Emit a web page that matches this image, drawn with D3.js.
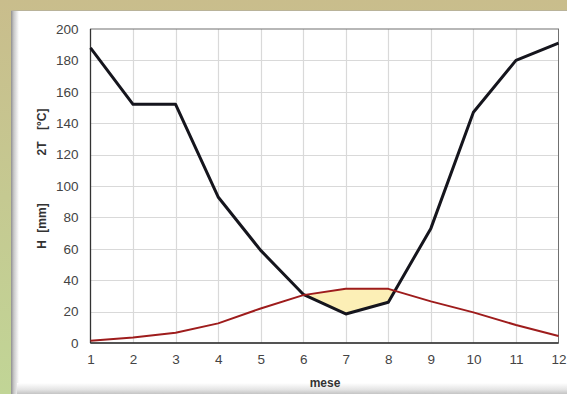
<!DOCTYPE html>
<html>
<head>
<meta charset="utf-8">
<script src="https://cdn.jsdelivr.net/npm/d3@7"></script>
<style>
  html, body { margin: 0; padding: 0; background: #fff; }
  svg { display: block; }
  text { font-family: "Liberation Sans", Arial, sans-serif; }
</style>
</head>
<body>
<svg id="chart" width="567" height="394"></svg>
<script>
// Monthly climate data (Walter–Lieth style): precipitation H and doubled temperature 2T
const months = [1, 2, 3, 4, 5, 6, 7, 8, 9, 10, 11, 12];
const precipitation = [188, 152, 152, 93, 59, 31, 18.5, 26, 73, 147, 180, 191];   // H [mm]
const doubleTemp = [1.5, 3.5, 6.5, 12.5, 22, 30.5, 34.5, 34.5, 26.5, 19.5, 11.5, 4.5]; // 2T [°C]
const yTicks = [0, 20, 40, 60, 80, 100, 120, 140, 160, 180, 200];

const svg = d3.select("#chart");
const W = 567, H = 394;

// ---- background: gradient frame with a bevelled white panel ----
const defs = svg.append("defs");
const bg = defs.append("linearGradient").attr("id", "bgGrad")
  .attr("x1", 0).attr("y1", 0).attr("x2", 0).attr("y2", 1);
bg.append("stop").attr("offset", "0%").attr("stop-color", "#c9bd8c");
bg.append("stop").attr("offset", "100%").attr("stop-color", "#c1d596");

const leftShade = defs.append("linearGradient").attr("id", "leftShade")
  .attr("x1", 0).attr("y1", 0).attr("x2", 1).attr("y2", 0);
leftShade.append("stop").attr("offset", "0%").attr("stop-color", "#8f8f8f");
leftShade.append("stop").attr("offset", "35%").attr("stop-color", "#c8c8c8");
leftShade.append("stop").attr("offset", "100%").attr("stop-color", "#ffffff");

const bottomShade = defs.append("linearGradient").attr("id", "bottomShade")
  .attr("x1", 0).attr("y1", 0).attr("x2", 0).attr("y2", 1);
bottomShade.append("stop").attr("offset", "0%").attr("stop-color", "#ffffff");
bottomShade.append("stop").attr("offset", "60%").attr("stop-color", "#e4e4e4");
bottomShade.append("stop").attr("offset", "100%").attr("stop-color", "#c4c4c4");

svg.append("rect").attr("width", W).attr("height", H).attr("fill", "url(#bgGrad)");
svg.append("rect").attr("x", 11).attr("y", 10).attr("width", W - 11).attr("height", H - 10)
  .attr("fill", "#ffffff");
svg.append("rect").attr("x", 11).attr("y", 10).attr("width", 8).attr("height", H - 10)
  .attr("fill", "url(#leftShade)");
svg.append("rect").attr("x", 17).attr("y", 383).attr("width", W - 17).attr("height", 11)
  .attr("fill", "url(#bottomShade)");
svg.append("line").attr("x1", 11).attr("x2", W).attr("y1", 10.5).attr("y2", 10.5)
  .attr("stroke", "#b9b39a").attr("stroke-width", 1);

// ---- scales ----
const x = d3.scaleLinear().domain([1, 12]).range([90.5, 558.5]);
const y = d3.scaleLinear().domain([0, 200]).range([343, 29]);

const plot = svg.append("g");

// grid lines
plot.append("g").selectAll("line.h").data(yTicks.slice(1, -1)).join("line")
  .attr("x1", x(1)).attr("x2", x(12))
  .attr("y1", d => Math.round(y(d)) + 0.5).attr("y2", d => Math.round(y(d)) + 0.5)
  .attr("stroke", "#d9d9d9").attr("stroke-width", 1.2);
plot.append("g").selectAll("line.v").data(months.slice(1, -1)).join("line")
  .attr("y1", y(0)).attr("y2", y(200))
  .attr("x1", d => Math.round(x(d)) + 0.5).attr("x2", d => Math.round(x(d)) + 0.5)
  .attr("stroke", "#d9d9d9").attr("stroke-width", 1.2);

// arid period: region below 2T and above H
const pts = months.map((m, i) => ({ m, h: precipitation[i], t: doubleTemp[i] }));
defs.append("clipPath").attr("id", "aboveH").append("path")
  .attr("d", d3.area().x(d => x(d.m)).y0(d => y(d.h)).y1(y(200))(pts));
plot.append("path")
  .attr("d", d3.area().x(d => x(d.m)).y0(y(0)).y1(d => y(d.t))(pts))
  .attr("clip-path", "url(#aboveH)")
  .attr("fill", "#fcefb6");

// plot frame
plot.append("rect").attr("x", x(1)).attr("y", y(200))
  .attr("width", x(12) - x(1)).attr("height", y(0) - y(200))
  .attr("fill", "none").attr("stroke", "#707070").attr("stroke-width", 1);
plot.append("line").attr("x1", x(1)).attr("x2", x(1)).attr("y1", y(200)).attr("y2", y(0))
  .attr("stroke", "#333").attr("stroke-width", 1.3);
plot.append("line").attr("x1", x(1)).attr("x2", x(12)).attr("y1", y(0)).attr("y2", y(0))
  .attr("stroke", "#333").attr("stroke-width", 1.3);

// series lines
const lineH = d3.line().x((d, i) => x(months[i])).y(d => y(d));
plot.append("path").datum(precipitation).attr("d", lineH)
  .attr("fill", "none").attr("stroke", "#15151d").attr("stroke-width", 3)
  .attr("stroke-linejoin", "round");
plot.append("path").datum(doubleTemp).attr("d", lineH)
  .attr("fill", "none").attr("stroke", "#9e1c1c").attr("stroke-width", 2)
  .attr("stroke-linejoin", "round");

// axes
const yAxis = d3.axisLeft(y).tickValues(yTicks).tickSize(0).tickPadding(12);
const gy = svg.append("g").attr("transform", `translate(${x(1)},0)`).call(yAxis);
gy.select(".domain").remove();
gy.selectAll("text").attr("fill", "#444").attr("font-size", 13.5)
  .attr("font-family", "'Liberation Sans', Arial, sans-serif");

const xAxis = d3.axisBottom(x).tickValues(months).tickSize(0).tickPadding(11)
  .tickFormat(d3.format("d"));
const gx = svg.append("g").attr("transform", `translate(0,${y(0)})`).call(xAxis);
gx.select(".domain").remove();
gx.selectAll("text").attr("fill", "#444").attr("font-size", 13.5)
  .attr("font-family", "'Liberation Sans', Arial, sans-serif");

// axis titles
svg.append("text").attr("x", 325).attr("y", 387).attr("text-anchor", "middle")
  .attr("font-size", 12).attr("font-weight", "bold").attr("fill", "#333").text("mese");
svg.append("text").attr("transform", "translate(46,226) rotate(-90)")
  .attr("text-anchor", "middle").attr("font-size", 12).attr("font-weight", "bold")
  .attr("fill", "#333").attr("word-spacing", 4).text("H [mm]");
svg.append("text").attr("transform", "translate(46,132) rotate(-90)")
  .attr("text-anchor", "middle").attr("font-size", 12).attr("font-weight", "bold")
  .attr("fill", "#333").attr("word-spacing", 8).text("2T [°C]");
</script>
</body>
</html>
